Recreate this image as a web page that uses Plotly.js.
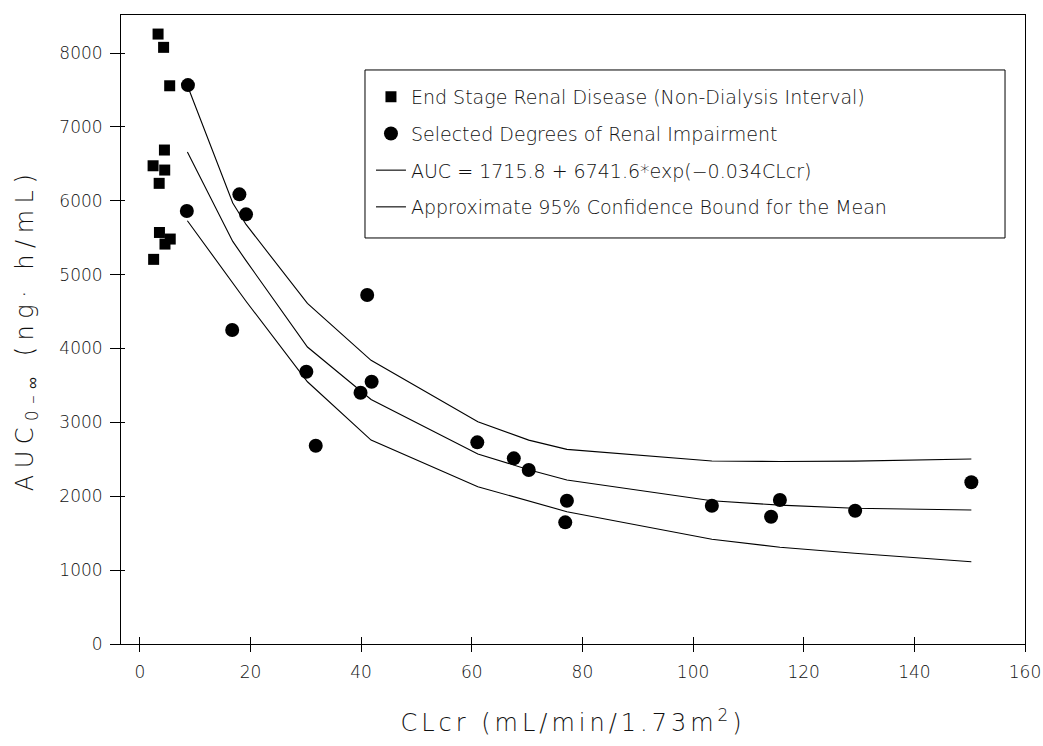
<!DOCTYPE html>
<html>
<head>
<meta charset="utf-8">
<script src="https://cdn.plot.ly/plotly-3.0.1.min.js"></script>
<style>
  html, body { margin: 0; padding: 0; background: #ffffff; }
  #chart { width: 1043px; height: 746px; }
  /* plotter-style wide lettering for the axis titles */
  #chart .xtitle { letter-spacing: 4px; }
  #chart .ytitle { letter-spacing: 6.5px; }
</style>
</head>
<body>
<div id="chart"></div>
<script>
// End Stage Renal Disease (Non-Dialysis Interval)
const esrdX = [3.3, 4.3, 5.4, 4.45, 2.4, 4.5, 3.5, 3.55, 5.5, 4.55, 2.5];
const esrdY = [8257, 8077, 7557, 6687, 6474, 6416, 6236, 5571, 5482, 5414, 5207];

// Selected Degrees of Renal Impairment
const renalX = [8.7, 8.5, 16.7, 18.0, 19.2, 30.1, 31.8, 41.1, 39.9, 41.9, 61.0, 67.6, 70.3, 77.2, 76.9, 103.4, 115.7, 114.1, 129.3, 150.3];
const renalY = [7566, 5861, 4250, 6087, 5816, 3686, 2684, 4724, 3401, 3550, 2730, 2513, 2355, 1940, 1647, 1872, 1949, 1723, 1804, 2189];

// Fitted curve and confidence bounds
const curveX = [8.6, 16.8, 19.2, 30.3, 41.8, 61.1, 70.3, 77.2, 103.4, 115.7, 129.2, 150.3];
const fitY   = [6660, 5450, 5190, 4020, 3310, 2572, 2360, 2220, 1940, 1880, 1837, 1814];
const upperY = [7560, 5970, 5680, 4610, 3840, 3010, 2760, 2635, 2477, 2470, 2475, 2504];
const lowerY = [5730, 4890, 4640, 3550, 2760, 2129, 1930, 1791, 1417, 1310, 1228, 1114];

const legendNames = [
  'End Stage Renal Disease (Non-Dialysis Interval)',
  'Selected Degrees of Renal Impairment',
  'AUC = 1715.8 + 6741.6*exp(\u22120.034CLcr)',
  'Approximate 95% Confidence Bound for the Mean'
];

const xTitle = 'CLcr (mL/min/1.73m<sup>2</sup>)';
const yTitle = 'AUC<sub>0\u2013\u221e</sub> (ng\u00b7 h/mL)';

const FONT = '"DejaVu Sans", "Liberation Sans", sans-serif';
const INK = '#111111';
const xRange = [-3.4, 160];
const yRange = [0, 8515];

const traces = [
  {
    x: esrdX, y: esrdY, type: 'scatter', mode: 'markers',
    name: legendNames[0], legendgroup: 'esrd',
    marker: { symbol: 'square', size: 11, color: '#000000' }
  },
  {
    x: renalX, y: renalY, type: 'scatter', mode: 'markers',
    name: legendNames[1], legendgroup: 'renal',
    marker: { symbol: 'circle', size: 14, color: '#000000' }
  },
  {
    x: curveX, y: fitY, type: 'scatter', mode: 'lines',
    name: legendNames[2], legendgroup: 'fit',
    line: { color: '#000000', width: 1.1 }
  },
  {
    x: curveX, y: upperY, type: 'scatter', mode: 'lines',
    name: legendNames[3], legendgroup: 'ci',
    line: { color: '#000000', width: 1.1 }
  },
  {
    x: curveX, y: lowerY, type: 'scatter', mode: 'lines',
    name: legendNames[3], legendgroup: 'ci', showlegend: false,
    line: { color: '#000000', width: 1.1 }
  },
  {
    // carrier for the inner tick axes
    x: [], y: [], type: 'scatter', mode: 'markers',
    xaxis: 'x2', yaxis: 'y2', showlegend: false, hoverinfo: 'skip'
  }
];

const layout = {
  width: 1043, height: 746,
  paper_bgcolor: '#ffffff', plot_bgcolor: '#ffffff',
  margin: { l: 121, r: 18, t: 15, b: 102 },
  font: { family: FONT, color: INK, size: 17, weight: 300 },
  showlegend: true,
  legend: {
    x: 0.2765, y: 0.9, xanchor: 'left', yanchor: 'top',
    bgcolor: 'rgba(0,0,0,0)', borderwidth: 0,
    font: { family: FONT, size: 19, color: INK, weight: 300 },
    traceorder: 'grouped', tracegroupgap: 9
  },
  shapes: [
    {
      // legend frame
      type: 'rect', xref: 'paper', yref: 'paper',
      x0: 0.2699, x1: 0.9779, y0: 0.6455, y1: 0.9126,
      line: { color: '#000000', width: 1 }, fillcolor: 'rgba(0,0,0,0)', layer: 'above'
    }
  ],
  xaxis: {
    range: xRange, autorange: false,
    tick0: 0, dtick: 20,
    ticks: 'outside', ticklen: 7, tickwidth: 1, tickcolor: '#000000',
    ticklabelstandoff: 6,
    showline: true, linecolor: '#000000', linewidth: 1, mirror: true,
    showgrid: false, zeroline: false,
    tickfont: { family: FONT, size: 17, color: INK, weight: 300 },
    title: { text: xTitle, standoff: 32, font: { family: FONT, size: 24, color: INK, weight: 300 } }
  },
  yaxis: {
    range: yRange, autorange: false,
    tick0: 0, dtick: 1000, tickformat: 'd',
    ticks: 'outside', ticklen: 10, tickwidth: 1, tickcolor: '#000000',
    ticklabelstandoff: 4,
    showline: true, linecolor: '#000000', linewidth: 1, mirror: true,
    showgrid: false, zeroline: false,
    tickfont: { family: FONT, size: 17, color: INK, weight: 300 },
    title: { text: yTitle, standoff: 18, font: { family: FONT, size: 24, color: INK, weight: 300 } }
  },
  xaxis2: {
    overlaying: 'x', anchor: 'y2', side: 'bottom',
    range: xRange, autorange: false, tick0: 0, dtick: 20,
    ticks: 'inside', ticklen: 7, tickwidth: 1, tickcolor: '#000000',
    showticklabels: false, showline: false, showgrid: false, zeroline: false
  },
  yaxis2: {
    overlaying: 'y', anchor: 'x2', side: 'left',
    range: yRange, autorange: false, tick0: 0, dtick: 1000,
    ticks: 'inside', ticklen: 4, tickwidth: 1, tickcolor: '#000000',
    showticklabels: false, showline: false, showgrid: false, zeroline: false
  }
};

Plotly.newPlot('chart', traces, layout, { staticPlot: true, displayModeBar: false });
</script>
</body>
</html>
